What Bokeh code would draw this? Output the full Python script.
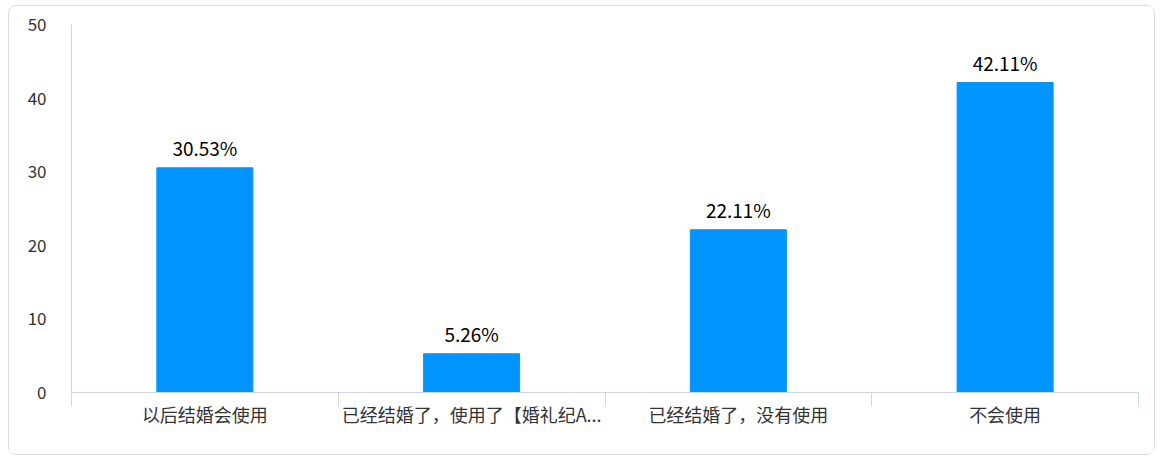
from bokeh.plotting import figure
from bokeh.models import ColumnDataSource, FixedTicker, Range1d
from bokeh.core.properties import value
from bokeh.embed import file_html
from bokeh.resources import INLINE

categories = ["以后结婚会使用", "已经结婚了，使用了【婚礼纪A...", "已经结婚了，没有使用", "不会使用"]
values = [30.53, 5.26, 22.11, 42.11]
y_ticks = [0, 10, 20, 30, 40, 50]

FONT = "Noto Sans CJK SC"
AXIS_COLOR = "#ccd6eb"
BAR_COLOR = "#0094ff"

idx = [i + 0.5 for i in range(len(categories))]
src = ColumnDataSource(dict(
    x=idx,
    top=values,
    label=[f"{v:.2f}%" for v in values],
))

p = figure(
    width=1147, height=450,
    output_backend="svg", toolbar_location=None,
    x_range=Range1d(0, len(categories)), y_range=Range1d(0, 50),
    min_border_left=62, min_border_right=18, min_border_top=18, min_border_bottom=64,
    background_fill_color="white", border_fill_color="white",
)
p.styles = {"border": "1px solid #dcdcdc", "border-radius": "8px", "overflow": "hidden",
            "margin-left": "8px", "margin-top": "5px"}
p.outline_line_color = None
p.xgrid.visible = False
p.ygrid.visible = False

p.vbar(x="x", top="top", width=0.36, bottom=0, source=src,
       fill_color=BAR_COLOR, line_color=BAR_COLOR)

p.text(x="x", y="top", text="label", source=src,
       text_align="center", text_baseline="bottom", y_offset=-7,
       text_font=value(FONT), text_font_size="19px", text_color="#000000")

# x axis: labels at category centres, ticks at category boundaries
p.xaxis.ticker = FixedTicker(ticks=idx, minor_ticks=list(range(len(categories) + 1)))
p.xaxis.major_label_overrides = {v: c for v, c in zip(idx, categories)}
p.xaxis.major_tick_line_color = None
p.xaxis.minor_tick_line_color = AXIS_COLOR
p.xaxis.minor_tick_out = 14
p.xaxis.minor_tick_in = 0
p.xaxis.axis_line_color = AXIS_COLOR
p.xaxis.major_label_standoff = -6
p.xaxis.major_label_text_font = FONT
p.xaxis.major_label_text_font_size = "18px"
p.xaxis.major_label_text_color = "#333333"

p.yaxis.ticker = FixedTicker(ticks=y_ticks)
p.yaxis.major_tick_line_color = None
p.yaxis.minor_tick_line_color = None
p.yaxis.axis_line_color = AXIS_COLOR
p.yaxis.major_label_standoff = 19
p.yaxis.major_label_text_font = FONT
p.yaxis.major_label_text_font_size = "17px"
p.yaxis.major_label_text_color = "#333333"

open("out.html", "w").write(file_html(p, INLINE))
